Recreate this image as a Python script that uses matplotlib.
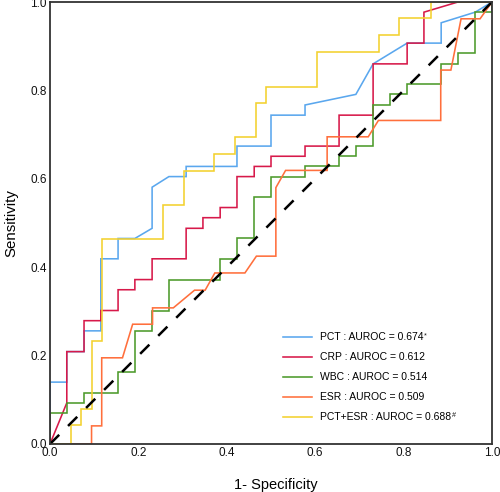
import matplotlib
matplotlib.use("Agg")
import matplotlib.pyplot as plt

plt.rcParams['font.family'] = ['Liberation Sans', 'DejaVu Sans']

# ---- data (1 - specificity, sensitivity) ----
pct_fpr = [0, 0, .038, .038, .077, .077, .115, .115, .154, .154, .192, .231, .231, .269, .308, .308,
           .423, .423, .5, .5, .577, .577, .692, .731, .808, .885, .885, .962, 1]
pct_tpr = [0, .140, .140, .209, .209, .256, .256, .419, .419, .465, .465, .488, .581, .605, .605, .628,
           .628, .674, .674, .744, .744, .767, .791, .860, .907, .907, .953, .977, 1]

crp_fpr = [0, .038, .038, .077, .077, .115, .115, .154, .154, .192, .192, .231, .231, .308, .308, .346,
           .346, .385, .385, .423, .423, .462, .462, .5, .5, .577, .577, .654, .654, .731, .731, .808,
           .808, .846, .846, .923, 1]
crp_tpr = [0, .093, .209, .209, .279, .279, .302, .302, .349, .349, .372, .372, .419, .419, .488, .488,
           .512, .512, .535, .535, .605, .605, .628, .628, .651, .651, .674, .674, .744, .744, .860, .860,
           .907, .907, .977, 1, 1]

wbc_fpr = [0, 0, .038, .038, .077, .077, .154, .154, .192, .192, .231, .231, .269, .269, .385, .385,
           .423, .423, .462, .462, .5, .5, .577, .577, .654, .654, .692, .692, .731, .731, .769, .769,
           .808, .808, .885, .885, .923, .923, .962, .962, 1, 1]
wbc_tpr = [0, .070, .070, .093, .093, .116, .116, .163, .163, .256, .256, .302, .302, .372, .372, .419,
           .419, .465, .465, .558, .558, .605, .605, .628, .628, .651, .651, .674, .674, .767, .767, .791,
           .791, .814, .814, .860, .860, .884, .884, .977, .977, 1]

esr_fpr = [0, .094, .094, .117, .117, .164, .187, .232, .232, .279, .327, .351, .373, .441, .467, .511,
           .511, .533, .627, .627, .720, .743, .884, .884, .907, .930, .973, 1]
esr_tpr = [0, 0, .041, .041, .195, .195, .271, .271, .308, .308, .348, .348, .387, .387, .425, .425,
           .580, .619, .619, .695, .695, .732, .732, .846, .846, .962, .962, 1]

comb_fpr = [0, .0475, .0475, .070, .070, .094, .094, .117, .117, .256, .256, .303, .303, .372, .372, .419,
            .419, .465, .465, .489, .489, .605, .605, .744, .744, .790, .790, .861, .861, 1]
comb_tpr = [0, 0, .042, .042, .079, .079, .233, .233, .463, .463, .541, .541, .618, .618, .655, .655,
            .695, .695, .771, .771, .808, .808, .886, .886, .925, .925, .963, .963, 1, 1]

labels = ["PCT : AUROC = 0.674",
          "CRP : AUROC = 0.612",
          "WBC : AUROC = 0.514",
          "ESR : AUROC = 0.509",
          "PCT+ESR : AUROC = 0.688"]
marks = ["*", "", "", "", "#"]
colors = ["#5AA7EE", "#D7194A", "#4C9A2A", "#FF6F3C", "#F3D12E"]
ticks = [0.0, 0.2, 0.4, 0.6, 0.8, 1.0]
tick_labels = ["0.0", "0.2", "0.4", "0.6", "0.8", "1.0"]

fig = plt.figure(figsize=(5, 4.92), dpi=100)
ax = fig.add_axes([50 / 500, 48 / 492, 442 / 500, 442 / 492])

series = [(pct_fpr, pct_tpr), (crp_fpr, crp_tpr), (wbc_fpr, wbc_tpr),
          (esr_fpr, esr_tpr), (comb_fpr, comb_tpr)]
for (fx, ty), lab, col in zip(series, labels, colors):
    ax.plot(fx, ty, color=col, lw=1.15, label=lab, solid_joinstyle='miter')

ax.plot([0, 1], [0, 1], color='black', lw=1.8, dashes=(5.2, 5.0))

ax.set_xlim(0, 1)
ax.set_ylim(0, 1)
ax.set_xticks(ticks)
ax.set_xticklabels(tick_labels)
ax.set_yticks(ticks)
ax.set_yticklabels(tick_labels)
ax.tick_params(length=0, labelsize=8.5, pad=2.5, colors='#111111')
for s in ax.spines.values():
    s.set_linewidth(1.3)
    s.set_color('#333333')

ax.set_xlabel("1- Specificity", fontsize=10.5)
ax.set_ylabel("Sensitivity", fontsize=10.8)
ax.xaxis.set_label_coords(0.51, -0.077)
ax.yaxis.set_label_coords(-0.072, 0.5)

leg = ax.legend(loc='lower left', bbox_to_anchor=(0.517, 0.04), frameon=False,
                fontsize=7.5, handlelength=2.78, handletextpad=0.8, labelspacing=0.96,
                borderaxespad=0)

# superscript marks after the legend labels
fig.canvas.draw()
r = fig.canvas.get_renderer()
for t, m in zip(leg.get_texts(), marks):
    if m:
        bb = t.get_window_extent(r)
        fig.text((bb.x1 + 0.8) / 500, (bb.y1 - 0.3) / 492, m, fontsize=5.2,
                 ha='left', va='top', color='#111111')

fig.savefig("out.png", dpi=100)
